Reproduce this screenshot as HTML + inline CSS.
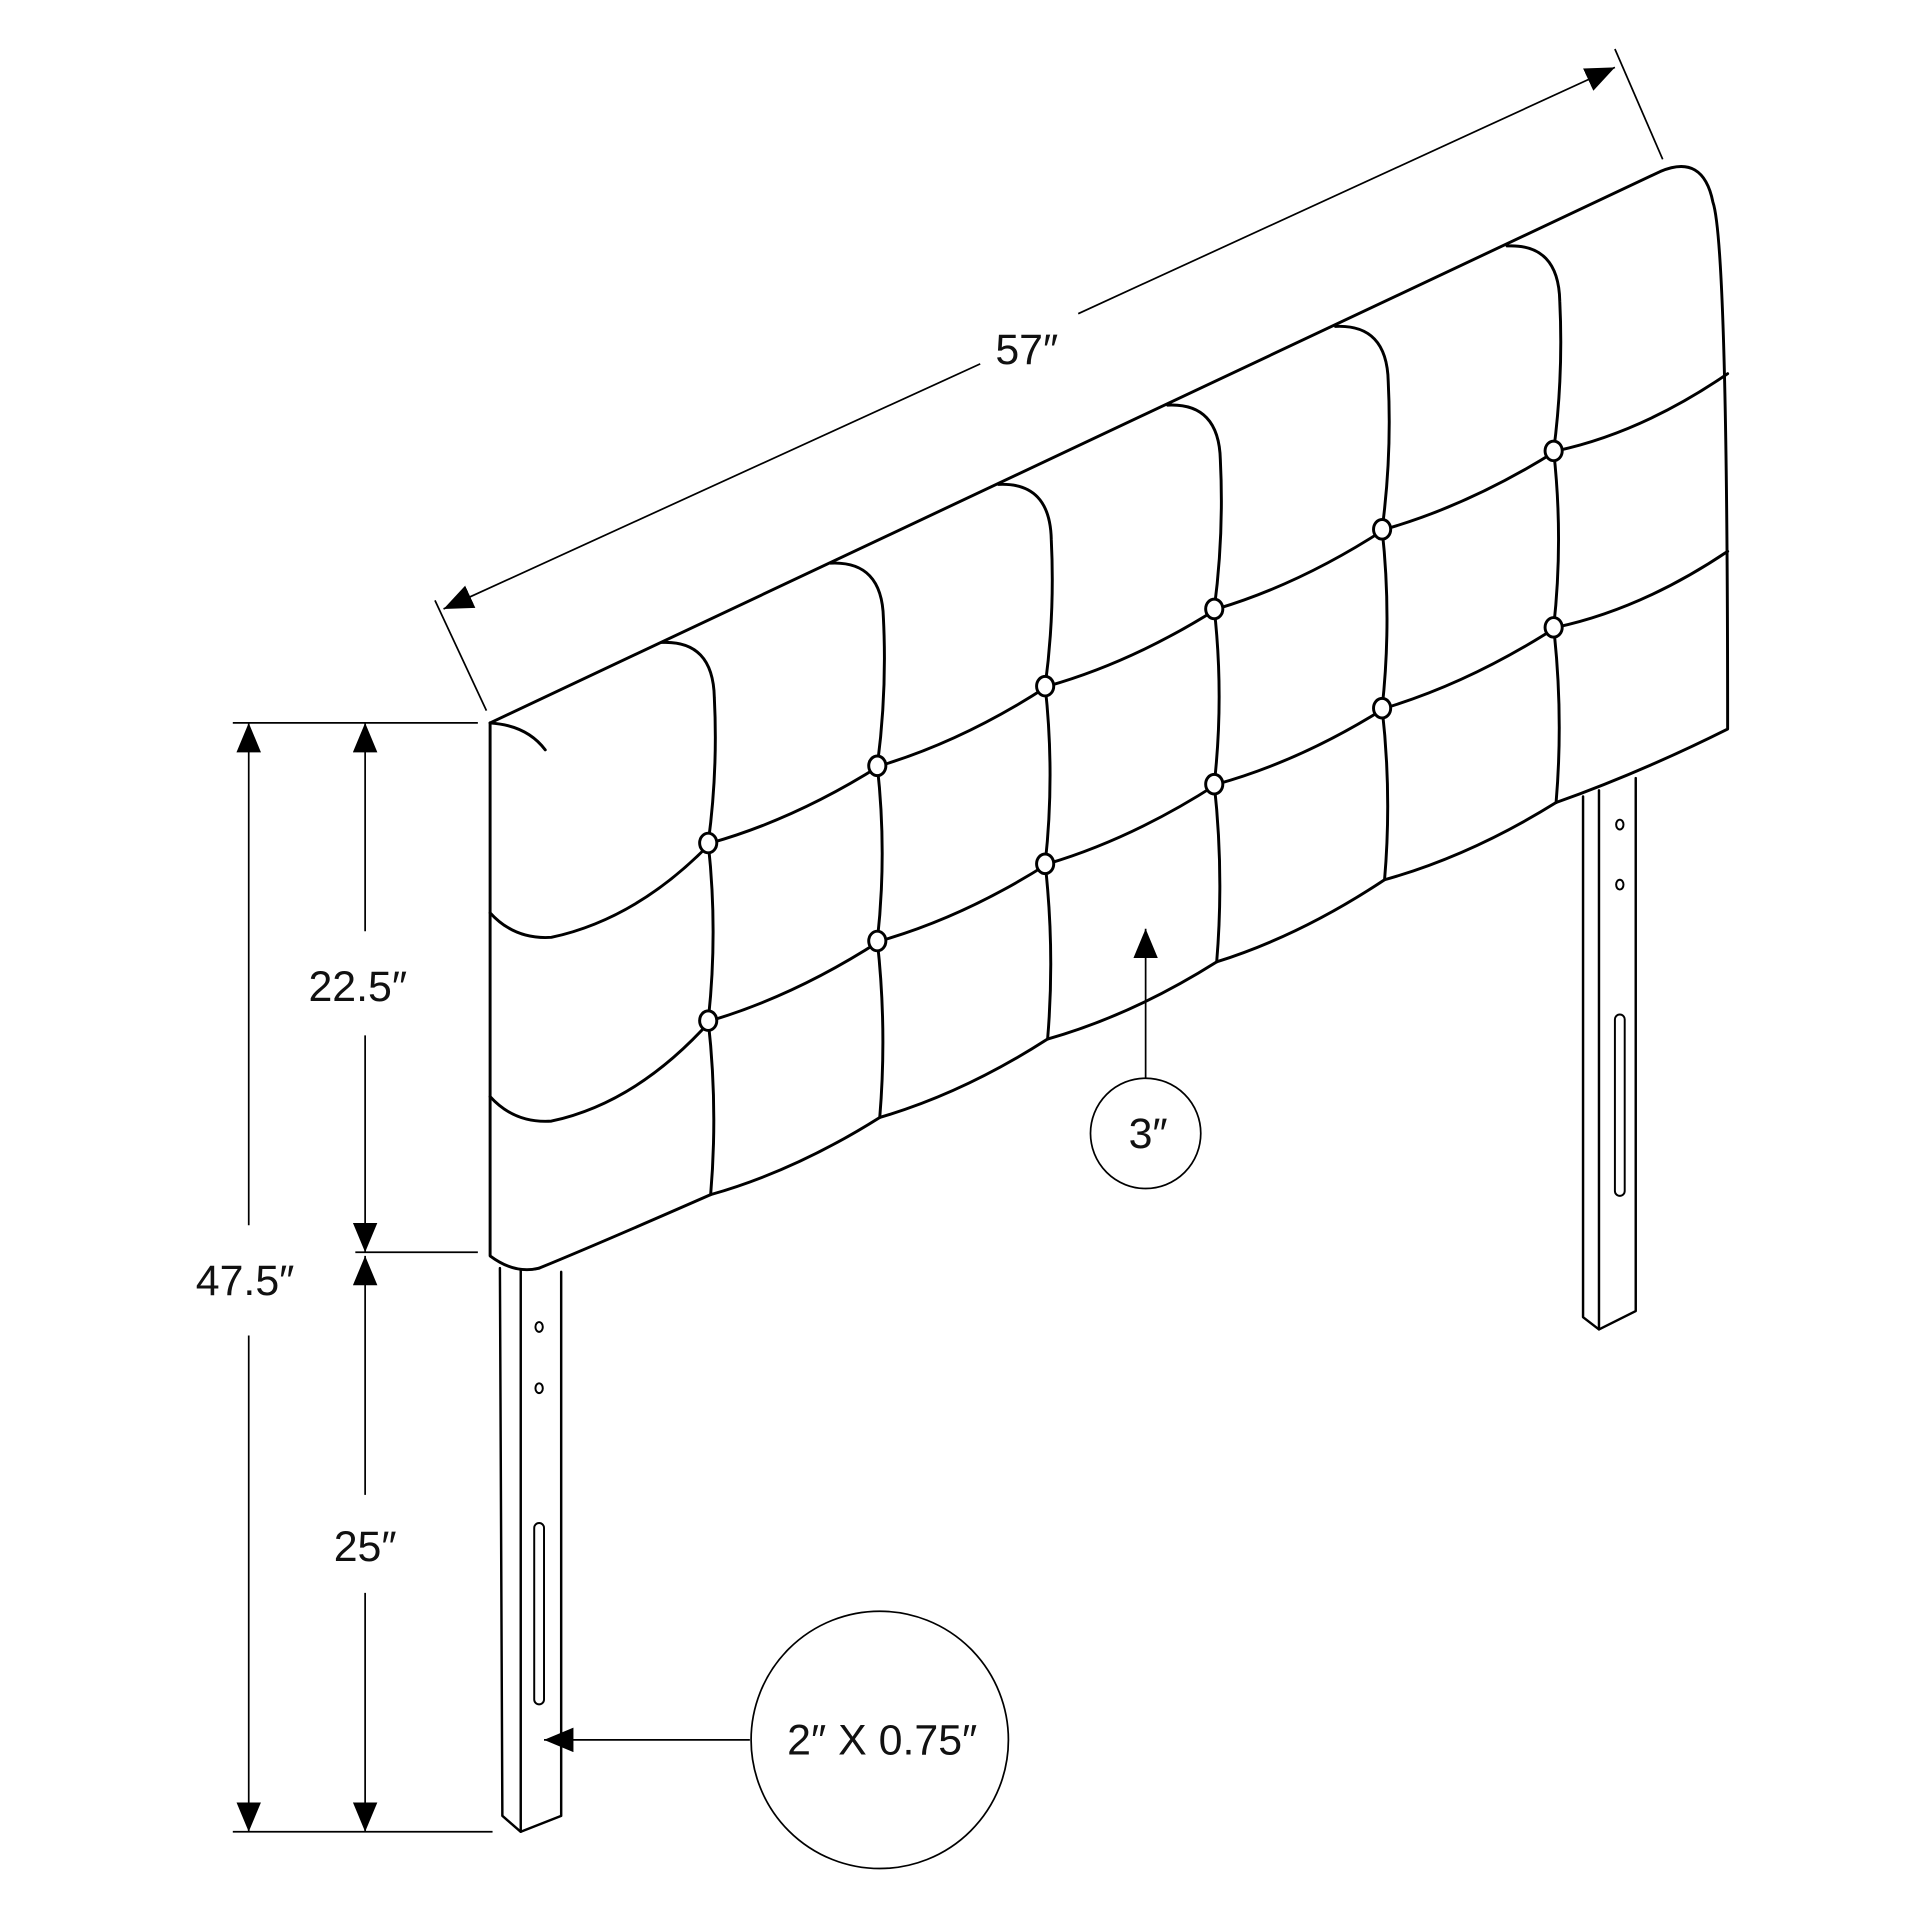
<!DOCTYPE html>
<html><head><meta charset="utf-8"><style>
html,body{margin:0;padding:0;background:#fff;width:1920px;height:1920px;overflow:hidden}
svg{display:block}
text{font-family:"Liberation Sans",sans-serif;font-size:35px;fill:#111}
</style></head><body>
<svg id="s" width="1920" height="1920" viewBox="0 0 1567 1567" xmlns="http://www.w3.org/2000/svg">
<defs>
<marker id="b" markerWidth="24" markerHeight="20" refX="24" refY="10" orient="auto" markerUnits="userSpaceOnUse"><path d="M0,0 L24,10 L0,20z" fill="#000"/></marker></defs>
<g id="g" fill="none" stroke="#000" stroke-width="2.4" stroke-linejoin="round" stroke-linecap="round"></g>
<g fill="none" stroke="#000" stroke-width="1.4">
<line x1="355" y1="490" x2="397" y2="580"/><line x1="1318" y1="40" x2="1357" y2="130"/>
<line x1="800" y1="297" x2="362" y2="497" marker-end="url(#b)"/>
<line x1="880" y1="256" x2="1318" y2="55" marker-end="url(#b)"/>
<line x1="190" y1="590" x2="390" y2="590"/><line x1="290" y1="1022" x2="390" y2="1022"/><line x1="190" y1="1495" x2="402" y2="1495"/>
<line x1="203" y1="1000" x2="203" y2="590" marker-end="url(#b)"/>
<line x1="203" y1="1090" x2="203" y2="1495" marker-end="url(#b)"/>
<line x1="298" y1="760" x2="298" y2="590" marker-end="url(#b)"/>
<line x1="298" y1="845" x2="298" y2="1022" marker-end="url(#b)"/>
<line x1="298" y1="1220" x2="298" y2="1025" marker-end="url(#b)"/>
<line x1="298" y1="1300" x2="298" y2="1495" marker-end="url(#b)"/>
<line x1="935" y1="880" x2="935" y2="758" marker-end="url(#b)"/>
<line x1="612" y1="1420" x2="444" y2="1420" marker-end="url(#b)"/>
<circle cx="935" cy="925" r="45"/><circle cx="718" cy="1420" r="105"/>
</g>
<text x="838" y="297" text-anchor="middle">57″</text>
<text x="200" y="1057" text-anchor="middle">47.5″</text>
<text x="292" y="817" text-anchor="middle">22.5″</text>
<text x="298" y="1274" text-anchor="middle">25″</text>
<text x="937" y="937" text-anchor="middle">3″</text>
<text x="720" y="1432" text-anchor="middle">2″ X 0.75″</text>
</svg>
<script>
var g=document.getElementById('g'),h='';
function P(d,extra){h+='<path d="'+d+'" '+(extra||'')+'/>';}
P('M400,590 L1355,140 Q1390,125 1398,165 Q1410,200 1410,595 Q1340,630 1270,655');
P('M400,590 L400,1025 Q420,1040 440,1035');
P('M400,590 Q430,592 445,612');
var cols=[580,718,855,993,1130,1270];
var b1=[688,625,560,497,432,368], b2=[833,768,705,640,578,512];
var bot=[975,912,848,785,718,655];
var topY=function(x){return 590-0.469*(x-400);};
for(var i=0;i<6;i++){var x=cols[i],t=topY(x-40);
P('M'+(x-40)+','+t+' Q'+(x+2)+','+(t-2)+' '+(x+3)+','+(t+45)+' Q'+(x+6)+','+((t+45+b1[i])/2)+' '+(x-2)+','+b1[i]+' Q'+(x+6)+','+((b1[i]+b2[i])/2)+' '+(x-2)+','+b2[i]+' Q'+(x+6)+','+((b2[i]+bot[i])/2)+' '+x+','+bot[i]);}
var bx=[400].concat(cols), by=[1030].concat(bot);
var d='M440,1035';for(var i=1;i<bx.length;i++){var mx=(bx[i-1]+bx[i])/2,my=(by[i-1]+by[i])/2+12;d+=' Q'+mx+','+my+' '+bx[i]+','+by[i];}
P(d);
[[745,b1,305],[895,b2,450]].forEach(function(r){
var d='M400,'+r[0]+' Q420,'+(r[0]+22)+' 450,'+(r[0]+20)+' Q520,'+(r[0]+5)+' '+cols[0]+','+r[1][0];
for(var i=1;i<6;i++){var mx=(cols[i-1]+cols[i])/2,my=(r[1][i-1]+r[1][i])/2+12;d+=' Q'+mx+','+my+' '+cols[i]+','+r[1][i];}
d+=' Q1340,'+(r[1][5]-15)+' 1410,'+r[2];P(d);});
for(var i=0;i<6;i++){[b1[i],b2[i]].forEach(function(y){h+='<ellipse cx="'+(cols[i]-2)+'" cy="'+y+'" rx="7" ry="8" fill="#fff"/>';});}
P('M408,1035 L410,1482 L425,1495 L458,1482 L458,1038','stroke-width="2"');P('M425,1037 L425,1495','stroke-width="2"');
P('M1292,650 L1292,1075 L1305,1085 L1335,1070 L1335,635','stroke-width="2"');P('M1305,645 L1305,1085','stroke-width="2"');
h+='<ellipse cx="440" cy="1083" rx="3" ry="4" stroke-width="1.6"/><ellipse cx="440" cy="1133" rx="3" ry="4" stroke-width="1.6"/><rect x="436" y="1243" width="8" height="148" rx="4" stroke-width="1.6"/>';
h+='<ellipse cx="1322" cy="673" rx="3" ry="4" stroke-width="1.6"/><ellipse cx="1322" cy="722" rx="3" ry="4" stroke-width="1.6"/><rect x="1318" y="828" width="8" height="148" rx="4" stroke-width="1.6"/>';
g.innerHTML=h;
</script>
</body></html>
